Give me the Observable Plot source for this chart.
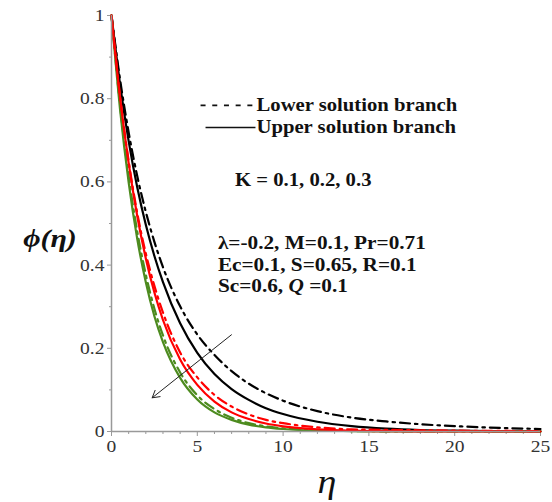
<!DOCTYPE html>
<html><head><meta charset="utf-8">
<script src="https://cdn.jsdelivr.net/npm/d3@7"></script>
<script src="https://cdn.jsdelivr.net/npm/@observablehq/plot@0.6"></script>
<style>body{margin:0;background:#fff}</style>
</head><body><div id="chart"></div>
<script>
// η grid and φ(η) values
const eta = [0,0.5,1,1.5,2,2.5,3,4,5,6,7,8,9,10,12,14,16,18,20,22,25];
const blackUpper = [1,0.834,0.698,0.587,0.497,0.422,0.359,0.26,0.189,0.138,0.102,0.076,0.056,0.042,0.0235,0.013,0.0068,0.0035,0.002,0.001,0.0005];
const blackLower = [1,0.846,0.719,0.614,0.528,0.456,0.395,0.301,0.233,0.184,0.145,0.115,0.092,0.074,0.049,0.0334,0.0242,0.0175,0.0129,0.0095,0.006];
const redUpper   = [1,0.803,0.645,0.518,0.416,0.334,0.268,0.173,0.112,0.072,0.046,0.030,0.0193,0.0125,0.0052,0.0022,0.0009,0.0004,0.0002,0.0001,0];
const redLower   = [1,0.805,0.650,0.525,0.428,0.350,0.286,0.19,0.13,0.088,0.06,0.041,0.028,0.02,0.01,0.005,0.004,0.003,0.002,0.0015,0.001];
const greenUpper = [1,0.774,0.599,0.463,0.359,0.277,0.215,0.129,0.077,0.046,0.028,0.0165,0.0099,0.006,0.002,0.001,0.0004,0.0002,0.0001,0,0];
const greenLower = [1,0.784,0.614,0.481,0.377,0.295,0.231,0.142,0.087,0.054,0.033,0.020,0.0124,0.0076,0.0029,0.0011,0.0004,0.0002,0.0001,0,0];

const xMajor = [0,5,10,15,20,25];
const xMinor = [1,2,3,4,6,7,8,9,11,12,13,14,16,17,18,19,21,22,23,24];
const yMajor = [0,0.2,0.4,0.6,0.8,1];
const yMinor = [0.1,0.3,0.5,0.7,0.9];

const legendLabels = ["Lower solution branch","Upper solution branch"];
const kLabel = "K = 0.1, 0.2, 0.3";
const paramLabels = ["λ=-0.2, M=0.1, Pr=0.71","Ec=0.1, S=0.65, R=0.1","Sc=0.6, Q =0.1"];

const DD = "10,5,2.5,5";
const series = [
  {vals: blackLower, color: "#000", dash: DD},
  {vals: blackUpper, color: "#000", dash: null},
  {vals: greenLower, color: "#4d8b1f", dash: DD},
  {vals: greenUpper, color: "#4d8b1f", dash: null},
  {vals: redLower, color: "#ff0000", dash: DD},
  {vals: redUpper, color: "#ff0000", dash: null}
];

const lineMarks = series.map(s => Plot.line(eta.map((e,i) => ({eta: e, phi: s.vals[i]})), {
  x: "eta", y: "phi", stroke: s.color, strokeWidth: 2.2, curve: "monotone-x",
  strokeDasharray: s.dash || undefined
}));

// annotation positions (data coordinates)
const legendPos = [
  {x1: 5.19, x2: 8.27, y: 0.784, tx: 8.45},
  {x1: 5.48, x2: 8.39, y: 0.731, tx: 8.45}
];
const arrowPos = [{x1: 6.99, y1: 0.2325, x2: 2.37, y2: 0.081}];
const kPos = {x: 7.2, y: 0.603};
const paramPos = [{x: 6.2, y: 0.452},{x: 6.2, y: 0.401},{x: 6.2, y: 0.349}];

const boldText = {fontFamily: "Liberation Serif", fontWeight: "bold", textAnchor: "start", fill: "#111"};

const chart = Plot.plot({
  width: 552, height: 502,
  marginLeft: 111, marginRight: 12, marginTop: 15, marginBottom: 71,
  x: {domain: [0,25]},
  y: {domain: [0,1]},
  style: {fontFamily: "Liberation Serif", fontSize: "17px", background: "#fff", color: "#222"},
  marks: [
    Plot.axisX({ticks: xMinor, tickSize: 3, tickFormat: () => "", stroke: "#999", label: null}),
    Plot.axisX({ticks: xMajor, tickSize: 5, tickPadding: 3, tickFormat: d => String(d), stroke: "#999", fill: "#333", fontSize: 17, label: null}),
    Plot.axisY({ticks: yMinor, tickSize: 2, tickFormat: () => "", stroke: "#999", label: null}),
    Plot.axisY({ticks: yMajor, tickSize: 4, tickPadding: 3, tickFormat: d => String(d), stroke: "#999", fill: "#333", fontSize: 17, label: null}),
    ...lineMarks,
    Plot.ruleX([0], {stroke: "#999", strokeWidth: 1.5}),
    Plot.ruleY([0], {stroke: "#999", strokeWidth: 1.5}),
    Plot.arrow(arrowPos, {x1: "x1", y1: "y1", x2: "x2", y2: "y2", stroke: "#222", strokeWidth: 1, headLength: 12}),
    Plot.link([legendPos[0]], {x1: "x1", x2: "x2", y1: "y", y2: "y", stroke: "#111", strokeWidth: 1.8, strokeDasharray: "5,6.7"}),
    Plot.link([legendPos[1]], {x1: "x1", x2: "x2", y1: "y", y2: "y", stroke: "#111", strokeWidth: 1.5}),
    Plot.text(legendPos.map((p,i) => ({...p, t: legendLabels[i]})), {x: "tx", y: "y", text: "t", fontSize: 18, ...boldText}),
    Plot.text([kPos], {x: "x", y: "y", text: () => kLabel, fontSize: 18, ...boldText}),
    Plot.text(paramPos.map((p,i) => ({...p, t: paramLabels[i]})), {x: "x", y: "y", text: "t", fontSize: 18.5, ...boldText})
  ]
});

const svg = d3.select(chart);
svg.selectAll("text").filter(function(){ return this.textContent === paramLabels[2]; }).each(function(){
  const t = d3.select(this);
  t.text(null);
  t.append("tspan").text("Sc=0.6, ");
  t.append("tspan").attr("font-style","italic").text("Q");
  t.append("tspan").text(" =0.1");
});
svg.append("text").attr("transform", "translate(50,247)").attr("text-anchor","middle")
  .attr("font-family","Liberation Serif").attr("font-weight","bold").attr("font-style","italic")
  .attr("font-size", 26).attr("fill","#111").text("\u03D5(η)");
svg.append("text").attr("transform", "translate(327,493)").attr("text-anchor","middle")
  .attr("font-family","Liberation Serif").attr("font-style","italic")
  .attr("font-size", 33).attr("fill","#111").text("η");

// the reference's lettering is slightly wide: stretch every text horizontally about its anchor
const S = 1.15;
svg.selectAll("text").each(function(){
  const x = parseFloat(this.getAttribute("x")) || 0;
  const t = this.getAttribute("transform") || "";
  this.setAttribute("transform", `${t} translate(${x},0) scale(${S},1) translate(${-x},0)`);
});

document.getElementById("chart").appendChild(chart);
</script>
</body></html>
